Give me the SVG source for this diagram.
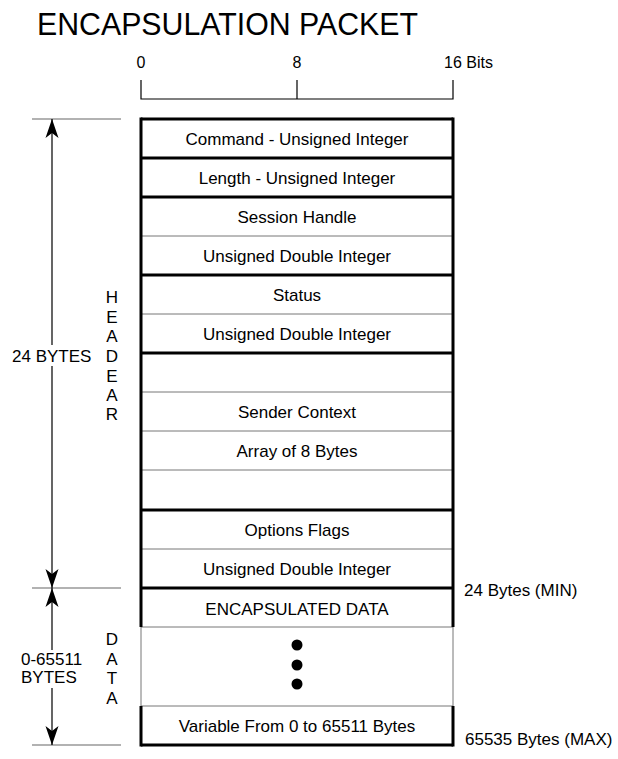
<svg xmlns="http://www.w3.org/2000/svg" width="618" height="759" viewBox="0 0 618 759">
<style>
  text { font-family: "Liberation Sans", Arial, sans-serif; fill: #000; }
  .lbl { font-size: 17px; text-anchor: middle; }
  .side { font-size: 17px; }
  .thick { stroke: #000; stroke-width: 3; fill: none; }
  .thin { stroke: #777; stroke-width: 1; fill: none; }
  .dim { stroke: #000; stroke-width: 1.2; fill: none; }
  .ext { stroke: #666; stroke-width: 1.2; fill: none; }
</style>
<defs>
  <marker id="arr" viewBox="-20 -8 21 16" refX="0" refY="0" markerWidth="21" markerHeight="16" markerUnits="userSpaceOnUse" orient="auto-start-reverse">
    <path d="M0,0 L-19,-6.5 L-14,0 L-19,6.5 Z" fill="#000"/>
  </marker>
</defs>
<rect width="618" height="759" fill="#fff"/>

<text id="title" x="37" y="35" font-size="31" textLength="381" lengthAdjust="spacingAndGlyphs">ENCAPSULATION PACKET</text>

<g id="scale">
  <path class="dim" d="M141,80 V99 H453 V80 M297,80 V99" stroke="#333"/>
  <text x="141" y="68" font-size="16" text-anchor="middle">0</text>
  <text x="297" y="68" font-size="16" text-anchor="middle">8</text>
  <text x="444" y="68" font-size="16">16 Bits</text>
</g>

<g id="dimensions">
  <path class="ext" d="M32,119 H121 M32,588 H121 M32,745 H121"/>
  <path class="dim" d="M52,119 V345 M52,366 V588" marker-start="url(#arr)" marker-end="url(#arr)"/>
  <path class="dim" d="M52,588 V650 M52,688 V745" marker-start="url(#arr)" marker-end="url(#arr)"/>
  <text class="side" x="12" y="362">24 BYTES</text>
  <text class="side" x="21" y="665">0-65511</text>
  <text class="side" x="21" y="683">BYTES</text>
</g>

<g id="header-label" class="lbl">
  <text x="112" y="303">H</text>
  <text x="112" y="323">E</text>
  <text x="112" y="342">A</text>
  <text x="112" y="362">D</text>
  <text x="112" y="382">E</text>
  <text x="112" y="401">A</text>
  <text x="112" y="420">R</text>
</g>

<g id="data-label" class="lbl">
  <text x="112" y="645">D</text>
  <text x="112" y="665">A</text>
  <text x="112" y="684">T</text>
  <text x="112" y="704">A</text>
</g>

<g id="packet">
  <path class="thin" d="M141,236 H453 M141,314 H453 M141,392 H453 M141,431 H453 M141,470 H453 M141,549 H453 M141,627 H453 M141,706 H453 M141,627 V706 M453,627 V706"/>
  <path class="thick" d="M141,119 H453 M141,158 H453 M141,197 H453 M141,275 H453 M141,353 H453 M141,510 H453 M141,588 H453 M141,745 H453"/>
  <path class="thick" d="M141,117.5 V627 M453,117.5 V627 M141,706 V746.5 M453,706 V746.5"/>
</g>

<g id="fields" class="lbl">
  <text x="297" y="145">Command - Unsigned Integer</text>
  <text x="297" y="184">Length - Unsigned Integer</text>
  <text x="297" y="223">Session Handle</text>
  <text x="297" y="262">Unsigned Double Integer</text>
  <text x="297" y="301">Status</text>
  <text x="297" y="340">Unsigned Double Integer</text>
  <text x="297" y="418">Sender Context</text>
  <text x="297" y="457">Array of 8 Bytes</text>
  <text x="297" y="536">Options Flags</text>
  <text x="297" y="575">Unsigned Double Integer</text>
  <text x="297" y="615">ENCAPSULATED DATA</text>
  <text x="297" y="732">Variable From 0 to 65511 Bytes</text>
</g>

<g id="dots" fill="#000">
  <circle cx="297" cy="645" r="5.5"/>
  <circle cx="297" cy="665" r="5.5"/>
  <circle cx="297" cy="684" r="5.5"/>
</g>

<g id="sizes">
  <text class="side" x="464" y="596">24 Bytes (MIN)</text>
  <text class="side" x="465" y="745">65535 Bytes (MAX)</text>
</g>
</svg>
